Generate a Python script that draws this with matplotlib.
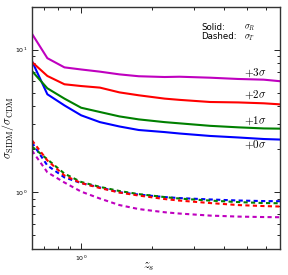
import matplotlib
matplotlib.use('Agg')
import matplotlib.pyplot as plt

plt.rcParams['mathtext.fontset'] = 'cm'

# source redshifts
zs = [0.62, 0.72, 0.85, 1.0, 1.2, 1.45, 1.75, 2.25, 2.6, 3.5, 4.6, 5.9, 6.9]

# solid: sigma_R ratio
solid0 = [8.3, 4.86, 4.06, 3.46, 3.10, 2.89, 2.73, 2.64, 2.58, 2.48, 2.42, 2.36, 2.34]
solid1 = [7.07, 5.35, 4.53, 3.91, 3.65, 3.40, 3.24, 3.10, 3.04, 2.92, 2.85, 2.80, 2.79]
solid2 = [8.18, 6.53, 5.71, 5.55, 5.41, 5.01, 4.78, 4.53, 4.44, 4.29, 4.26, 4.20, 4.13]
solid3 = [12.9, 8.7, 7.5, 7.25, 7.0, 6.7, 6.5, 6.42, 6.45, 6.35, 6.22, 6.15, 6.0]

# dashed: sigma_T ratio
dash0 = [2.23, 1.54, 1.27, 1.16, 1.08, 1.0, 0.963, 0.925, 0.91, 0.89, 0.875, 0.867, 0.865]
dash1 = [2.09, 1.70, 1.35, 1.18, 1.09, 1.02, 0.97, 0.925, 0.903, 0.874, 0.853, 0.84, 0.837]
dash2 = [2.31, 1.67, 1.31, 1.16, 1.07, 0.995, 0.948, 0.896, 0.874, 0.84, 0.813, 0.80, 0.794]
dash3 = [1.96, 1.38, 1.17, 1.01, 0.903, 0.813, 0.762, 0.724, 0.709, 0.686, 0.675, 0.67, 0.668]

labels = [r'$+0\sigma$', r'$+1\sigma$', r'$+2\sigma$', r'$+3\sigma$']
colors = ['b', 'g', 'r', 'm']

fig = plt.figure(figsize=(2.88, 2.75), dpi=100)
ax = fig.add_axes([0.111, 0.0945, 0.861, 0.8815])

solids = [solid0, solid1, solid2, solid3]
dashes = [dash0, dash1, dash2, dash3]
for s, d, c in zip(solids, dashes, colors):
    ax.plot(zs, s, '-', color=c, lw=1.5)
    ax.plot(zs, d, '--', color=c, lw=1.5, dashes=(2, 1.6))

ax.set_xscale('log')
ax.set_yscale('log')
ax.set_xlim(0.62, 6.9)
ax.set_ylim(0.4, 20)

# sigma labels next to the solid curves
label_y = [0.429, 0.529, 0.635, 0.727]
for lab, ly in zip(labels, label_y):
    ax.text(0.90, ly, lab, transform=ax.transAxes, ha='center', va='center',
            fontsize=8)

ax.text(0.684, 0.913, 'Solid:', transform=ax.transAxes, fontsize=6.2,
        va='center')
ax.text(0.684, 0.876, 'Dashed:', transform=ax.transAxes, fontsize=6.2,
        va='center')
ax.text(0.855, 0.912, r'$\sigma_R$', transform=ax.transAxes, fontsize=6.2,
        va='center')
ax.text(0.855, 0.872, r'$\sigma_T$', transform=ax.transAxes, fontsize=6.2,
        va='center')

ax.set_xlabel(r'$z_s$', fontsize=9)
ax.set_ylabel(r'$\sigma_{\rm SIDM}/\sigma_{\rm CDM}$', fontsize=8.5)
ax.xaxis.set_label_coords(0.47, -0.045)
ax.yaxis.set_label_coords(-0.064, 0.5)

ax.tick_params(which='both', direction='in', top=True, right=True,
               labelsize=4.5, width=0.6)
ax.tick_params(which='major', length=4)
ax.tick_params(which='minor', length=2)
for sp in ax.spines.values():
    sp.set_linewidth(1.0)
    sp.set_color('#333333')

fig.savefig('out.png', dpi=100)
